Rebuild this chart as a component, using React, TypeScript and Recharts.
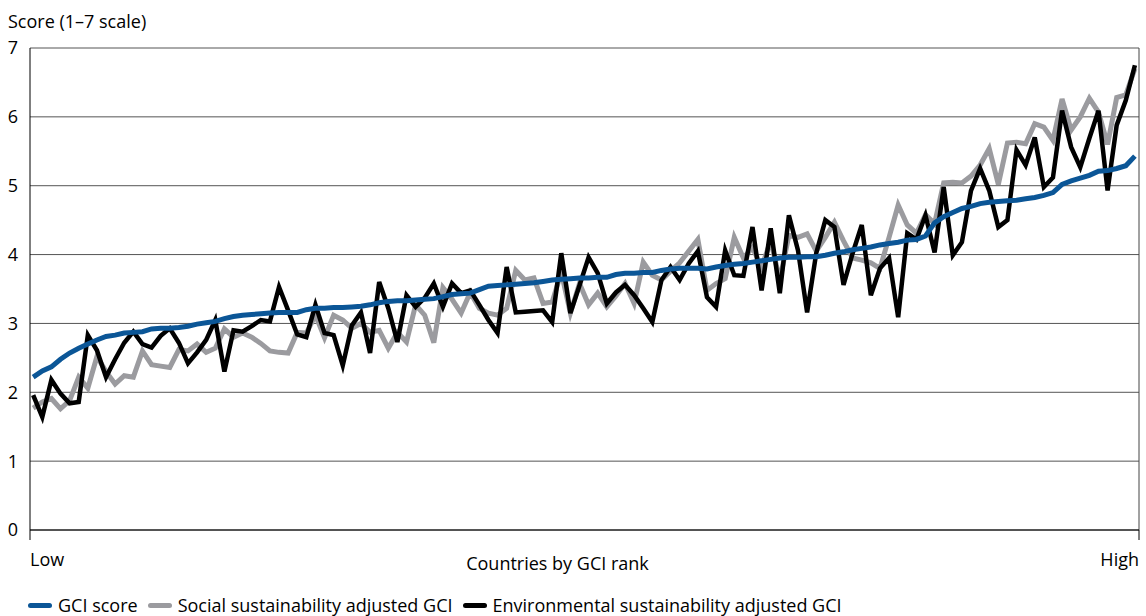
import { LineChart, Line, XAxis, YAxis, CartesianGrid, ReferenceLine } from 'recharts';

// countries ordered from lowest to highest GCI rank
const gciScore = [
    2.22, 2.31, 2.37, 2.48, 2.57, 2.64, 2.70, 2.76, 2.81, 2.83,
    2.86, 2.87, 2.88, 2.92, 2.93, 2.93, 2.94, 2.96, 2.99, 3.01,
    3.03, 3.07, 3.10, 3.12, 3.13, 3.14, 3.15, 3.16, 3.16, 3.16,
    3.20, 3.22, 3.22, 3.23, 3.23, 3.24, 3.25, 3.27, 3.30, 3.32,
    3.33, 3.33, 3.34, 3.35, 3.36, 3.39, 3.42, 3.43, 3.44, 3.49,
    3.54, 3.55, 3.56, 3.57, 3.58, 3.59, 3.61, 3.63, 3.64, 3.65,
    3.66, 3.66, 3.67, 3.67, 3.71, 3.73, 3.73, 3.74, 3.74, 3.77,
    3.79, 3.80, 3.80, 3.80, 3.79, 3.82, 3.84, 3.86, 3.87, 3.89,
    3.91, 3.93, 3.95, 3.96, 3.96, 3.97, 3.97, 3.99, 4.02, 4.04,
    4.07, 4.09, 4.11, 4.14, 4.16, 4.18, 4.21, 4.22, 4.27, 4.46,
    4.55, 4.61, 4.67, 4.70, 4.74, 4.76, 4.77, 4.78, 4.79, 4.81,
    4.83, 4.86, 4.90, 5.02, 5.07, 5.11, 5.15, 5.21, 5.22, 5.25,
    5.29, 5.43,
];

const socialAdjusted = [
    1.77, 1.86, 1.91, 1.76, 1.88, 2.22, 2.06, 2.52, 2.30, 2.12,
    2.24, 2.22, 2.60, 2.40, 2.38, 2.36, 2.62, 2.60, 2.70, 2.58,
    2.64, 2.92, 2.80, 2.86, 2.80, 2.71, 2.60, 2.58, 2.57, 2.87,
    2.86, 3.12, 2.79, 3.12, 3.05, 2.93, 3.00, 2.87, 2.90, 2.64,
    2.87, 2.73, 3.27, 3.12, 2.72, 3.52, 3.35, 3.15, 3.45, 3.22,
    3.15, 3.12, 3.22, 3.77, 3.63, 3.66, 3.29, 3.31, 3.74, 3.15,
    3.58, 3.27, 3.44, 3.24, 3.40, 3.58, 3.29, 3.89, 3.70, 3.63,
    3.76, 3.88, 4.05, 4.22, 3.48, 3.58, 3.65, 4.25, 3.95, 4.10,
    3.82, 4.20, 3.63, 4.28, 4.25, 4.30, 4.05, 4.25, 4.47, 4.20,
    3.95, 3.92, 3.88, 3.80, 4.25, 4.72, 4.43, 4.31, 4.58, 4.45,
    5.04, 5.05, 5.04, 5.14, 5.30, 5.54, 5.02, 5.62, 5.63, 5.61,
    5.90, 5.85, 5.66, 6.26, 5.81, 6.00, 6.27, 6.07, 5.60, 6.28,
    6.32, 6.70,
];

const environmentalAdjusted = [
    1.96, 1.64, 2.18, 1.98, 1.84, 1.86, 2.83, 2.61, 2.22, 2.48,
    2.72, 2.88, 2.70, 2.65, 2.82, 2.93, 2.72, 2.42, 2.58, 2.76,
    3.05, 2.30, 2.90, 2.88, 2.96, 3.05, 3.03, 3.53, 3.19, 2.84,
    2.80, 3.27, 2.86, 2.83, 2.39, 2.97, 3.16, 2.57, 3.60, 3.22,
    2.73, 3.41, 3.24, 3.37, 3.58, 3.24, 3.58, 3.44, 3.48, 3.27,
    3.05, 2.86, 3.82, 3.16, 3.17, 3.18, 3.19, 3.02, 4.02, 3.15,
    3.55, 3.96, 3.73, 3.29, 3.45, 3.56, 3.41, 3.22, 3.02, 3.63,
    3.82, 3.63, 3.87, 4.05, 3.38, 3.24, 4.06, 3.70, 3.69, 4.40,
    3.48, 4.38, 3.44, 4.57, 4.06, 3.16, 4.02, 4.50, 4.40, 3.56,
    4.02, 4.43, 3.41, 3.80, 3.95, 3.09, 4.31, 4.22, 4.57, 4.03,
    4.98, 3.99, 4.18, 4.93, 5.25, 4.93, 4.40, 4.50, 5.52, 5.30,
    5.70, 4.98, 5.12, 6.09, 5.56, 5.27, 5.69, 6.09, 4.93, 5.88,
    6.24, 6.75,
];

const yTicks = [0, 1, 2, 3, 4, 5, 6, 7];
const xEndLabels = ['Low', 'High'];

const seriesNames = ['GCI score', 'Social sustainability adjusted GCI', 'Environmental sustainability adjusted GCI'];
const seriesColors = ['#0b5697', '#9b9b9f', '#000000'];

const FONT = '"Open Sans", sans-serif';
const FS = 18;
const X_MIN = -0.35;
const X_MAX = gciScore.length - 1 + 0.45;

const data = gciScore.map((g, i) => ({
    rank: i,
    gci: g,
    social: socialAdjusted[i],
    env: environmentalAdjusted[i],
}));

function EndTick(props: any) {
    const { x, y, payload } = props;
    const first = payload.value === X_MIN;
    return (
        <text x={x} y={y} dy="0.71em" textAnchor={first ? 'start' : 'end'} fill="#000" fontSize={FS} fontFamily={FONT}>
            {first ? xEndLabels[0] : xEndLabels[1]}
        </text>
    );
}

export default function App() {
    return (
        <div style={{ position: 'fixed', left: 0, top: 0, width: 1146, height: 616, overflow: 'hidden', background: '#fff', fontFamily: FONT }}>
            <div style={{ position: 'absolute', left: 8, top: 9, fontSize: FS, color: '#000', lineHeight: '24px' }}>
                Score (1–7 scale)
            </div>

            <LineChart
                width={1146}
                height={616}
                data={data}
                margin={{ top: 48, right: 7, bottom: 58, left: 0 }}
            >
                <CartesianGrid vertical={false} stroke="#555" />
                <XAxis
                    type="number"
                    dataKey="rank"
                    domain={[X_MIN, X_MAX]}
                    ticks={[X_MIN, X_MAX]}
                    interval={0}
                    tick={<EndTick />}
                    tickSize={10}
                    tickMargin={13}
                    height={28}
                    stroke="#000"
                    allowDecimals
                    label={{ value: 'Countries by GCI rank', position: 'bottom', offset: -1, dx: -27, fill: '#000', fontSize: FS, fontFamily: FONT }}
                />
                <YAxis
                    type="number"
                    domain={[0, 7]}
                    ticks={yTicks}
                    width={30}
                    tickSize={0}
                    tickMargin={12}
                    stroke="#000"
                    tick={{ fill: '#000', fontSize: FS, fontFamily: FONT }}
                />
                <ReferenceLine x={X_MAX} stroke="#444" />
                <Line type="linear" dataKey="social" stroke={seriesColors[1]} strokeWidth={5} dot={false} isAnimationActive={false} />
                <Line type="linear" dataKey="env" stroke={seriesColors[2]} strokeWidth={4.5} dot={false} isAnimationActive={false} />
                <Line type="linear" dataKey="gci" stroke={seriesColors[0]} strokeWidth={5} dot={false} isAnimationActive={false} />
            </LineChart>

            <div style={{ position: 'absolute', left: 28, top: 593, display: 'flex', alignItems: 'center', fontSize: FS, lineHeight: '24px', color: '#000', whiteSpace: 'nowrap' }}>
                {seriesNames.map((name, i) => (
                    <div key={name} style={{ display: 'flex', alignItems: 'center', marginRight: 10 }}>
                        <span style={{ display: 'inline-block', width: 24, height: 5, borderRadius: 3, background: seriesColors[i], marginRight: 6 }} />
                        <span>{name}</span>
                    </div>
                ))}
            </div>
        </div>
    );
}
